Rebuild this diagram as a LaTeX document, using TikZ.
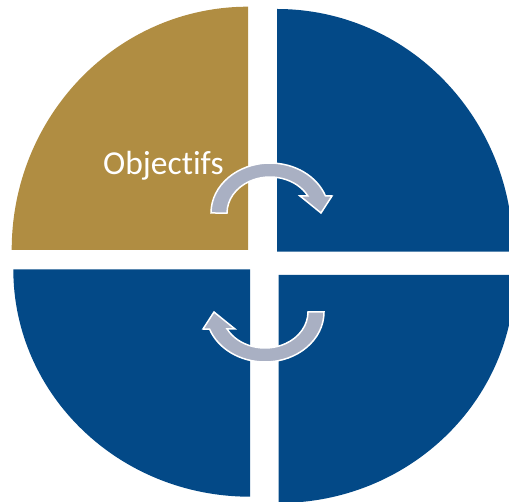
\documentclass[tikz,border=0pt]{standalone}
\usepackage{fontspec}
\setmainfont[Ligatures={NoCommon}]{Carlito}
\definecolor{gold}{RGB}{176,141,66}
\definecolor{navy}{RGB}{3,73,135}
\definecolor{arrowgrey}{RGB}{169,176,195}
\begin{document}
\begin{tikzpicture}[x=1pt,y=1pt,
  quad/.style={draw=none},
  cyclearrow/.style={fill=arrowgrey,draw=white,line width=1.5pt,line join=miter}]
\useasboundingbox (0,0) rectangle (509,-502);
\clip (0,0) rectangle (509,-502);
% quadrants
\fill[gold] (248,-250) -- (11.7,-250) arc[start angle=180,end angle=90,x radius=236.3,y radius=243.3] -- cycle;
\fill[navy] (277,-251.7) -- (277,-9) arc[start angle=90,end angle=0,x radius=236,y radius=242.7] -- cycle;
\fill[navy] (250,-269.3) -- (13.3,-269.3) arc[start angle=180,end angle=270,x radius=236.7,y radius=227.4] -- cycle;
\fill[navy] (278.7,-275) -- (514.7,-275) arc[start angle=0,end angle=-90,x radius=236,y radius=228] -- cycle;
% label
\node[anchor=base west,inner sep=0pt,text=white,font=\fontsize{33.5}{36}\selectfont] (obj) at (103,-175) {Objectifs};
% arrows
\draw[cyclearrow] (211,-213) arc[start angle=180,end angle=20,x radius=59,y radius=50]
  -- (332,-196) -- (321,-213) -- (300,-196) -- (307.9,-196)
  arc[start angle=28.2,end angle=180,x radius=43,y radius=36] -- cycle;
\draw[cyclearrow,rotate around={180:(267.5,-262.5)}] (211,-213) arc[start angle=180,end angle=20,x radius=59,y radius=50]
  -- (332,-196) -- (321,-213) -- (300,-196) -- (307.9,-196)
  arc[start angle=28.2,end angle=180,x radius=43,y radius=36] -- cycle;
\end{tikzpicture}
\end{document}
